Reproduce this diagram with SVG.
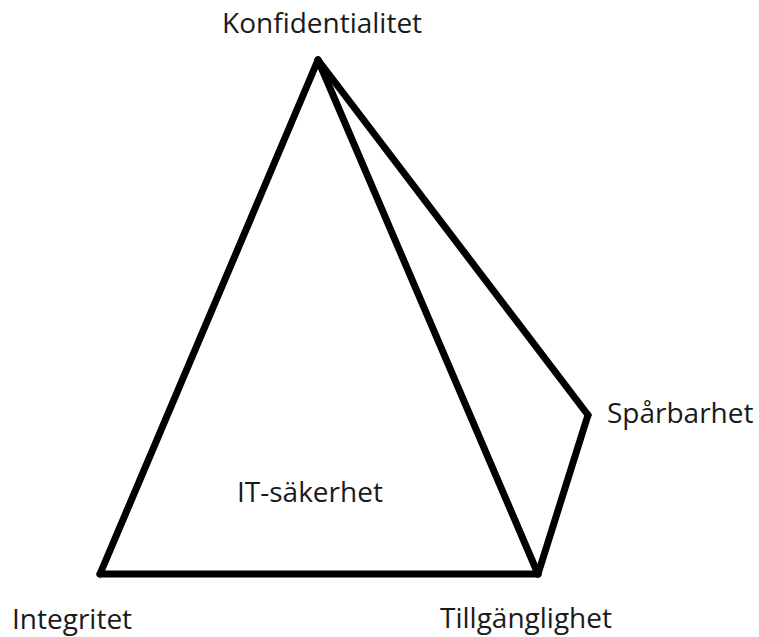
<svg xmlns="http://www.w3.org/2000/svg" width="759" height="637" viewBox="0 0 759 637">
  <style>
    .edge { fill: none; stroke: #000; stroke-width: 7; stroke-linecap: round; stroke-linejoin: round; }
    .label { font-family: "Open Sans", Lato, "Liberation Sans", sans-serif; font-size: 28px; fill: #1a1a1a; }
  </style>
  <rect width="759" height="637" fill="#fff"/>
  <g id="connectors">
    <line class="edge" x1="318" y1="60" x2="100" y2="574"/>
    <line class="edge" x1="100" y1="574" x2="538" y2="574"/>
    <line class="edge" x1="318" y1="60" x2="538" y2="574"/>
    <line class="edge" x1="318" y1="60" x2="588" y2="415"/>
    <line class="edge" x1="588" y1="415" x2="538" y2="574"/>
  </g>
  <g id="konfidentialitet"><text class="label" x="222" y="33">Konfidentialitet</text></g>
  <g id="sparbarhet"><text class="label" x="607" y="423">Spårbarhet</text></g>
  <g id="it-sakerhet"><text class="label" x="237" y="502">IT-säkerhet</text></g>
  <g id="integritet"><text class="label" x="12" y="629">Integritet</text></g>
  <g id="tillganglighet"><text class="label" x="440" y="628">Tillgänglighet</text></g>
</svg>
